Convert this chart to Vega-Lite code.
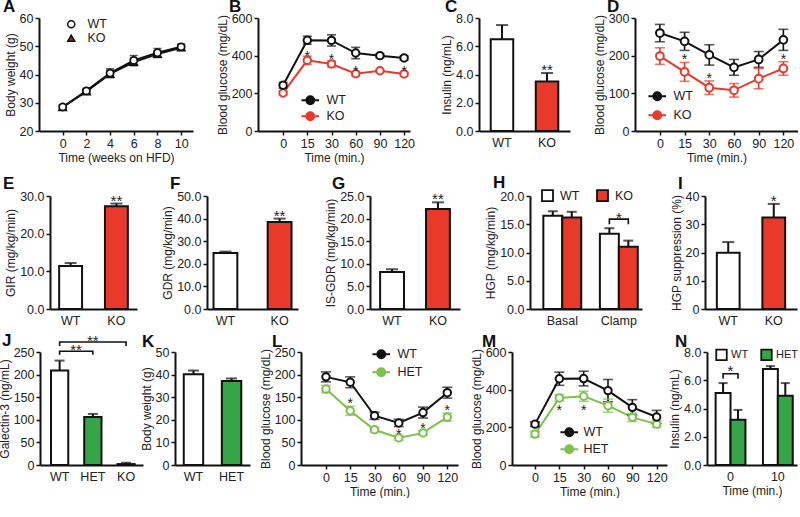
{
"$schema": "https://vega.github.io/schema/vega-lite/v6.json",
"padding": {"left": -2, "top": -2, "right": 0, "bottom": 0},
"spacing": 10,
"resolve": {"scale": {"fill": "independent", "stroke": "independent", "color": "independent", "shape": "independent", "xOffset": "independent", "x": "independent", "y": "independent"}, "legend": {"fill": "independent", "stroke": "independent", "color": "independent", "shape": "independent"}},
"vconcat": [
{"hconcat": [
{"width": 1, "height": 10, "data": {"values": [{"s": 0}]}, "mark": {"type": "point", "opacity": 0}},
{"width": 154, "height": 113, "title": {"text": "A", "dx": -36, "offset": -4},
 "data": {"values": [
  {"t":0,"g":"KO","m":28.4,"lo":27.7,"hi":29.1},{"t":2,"g":"KO","m":34.0,"lo":33.2,"hi":34.8},{"t":4,"g":"KO","m":40.2,"lo":38.9,"hi":41.5},{"t":6,"g":"KO","m":44.4,"lo":43.1,"hi":45.7},{"t":8,"g":"KO","m":47.2,"lo":46.0,"hi":48.4},{"t":10,"g":"KO","m":49.5,"lo":48.6,"hi":50.4},
  {"t":0,"g":"WT","m":28.5,"lo":27.7,"hi":29.3},{"t":2,"g":"WT","m":34.2,"lo":33.3,"hi":35.1},{"t":4,"g":"WT","m":40.5,"lo":39.0,"hi":42.0},{"t":6,"g":"WT","m":45.0,"lo":43.3,"hi":46.7},{"t":8,"g":"WT","m":47.7,"lo":46.2,"hi":49.2},{"t":10,"g":"WT","m":49.8,"lo":48.8,"hi":50.8}]},
 "encoding": {"x": {"field": "t", "type": "quantitative", "scale": {"domain": [-2, 11], "nice": false, "zero": false}, "axis": {"values": [0,2,4,6,8,10], "tickCount": 20, "format": "d", "title": "Time (weeks on HFD)"}}},
 "layer": [
  {"mark": {"type": "line", "strokeWidth": 2, "color": "#111111"}, "encoding": {"y": {"field": "m", "type": "quantitative", "scale": {"domain": [20, 60], "nice": false, "zero": false}, "axis": {"values": [20,30,40,50,60], "tickCount": 20, "format": "d", "title": "Body weight (g)"}}, "detail": {"field": "g"}}},
  {"mark": {"type": "rule", "strokeWidth": 1.5, "color": "#111111"}, "encoding": {"y": {"field": "lo", "type": "quantitative"}, "y2": {"field": "hi"}}},
  {"mark": {"type": "tick", "orient": "horizontal", "size": 8, "thickness": 1.5, "color": "#111111"}, "encoding": {"y": {"field": "lo", "type": "quantitative"}}},
  {"mark": {"type": "tick", "orient": "horizontal", "size": 8, "thickness": 1.5, "color": "#111111"}, "encoding": {"y": {"field": "hi", "type": "quantitative"}}},
  {"mark": {"type": "point", "size": 50, "filled": true, "stroke": "#111111", "strokeWidth": 1.8, "opacity": 1}, "encoding": {"y": {"field": "m", "type": "quantitative"},
    "fill": {"field": "g", "type": "nominal", "scale": {"domain": ["WT","KO"], "range": ["white","#8B2D2D"]}, "legend": {"title": null, "orient": "none", "legendX": 26, "legendY": 0, "labelOffset": 10, "rowPadding": 1, "symbolSize": 50,
       "encode": {"symbols": {"update": {"shape": {"signal": "datum.value === 'WT' ? 'M-2.4,0H-1M1,0H2.4M1,0A1,1,0,1,1,-1,0A1,1,0,1,1,1,0Z' : 'M-2.4,0.2H-0.6M0.6,0.2H2.4M0,-1.1L1.15,0.9L-1.15,0.9Z'"}, "stroke": {"value": "#111111"}, "strokeWidth": {"value": 1.8}}}}}},
    "shape": {"field": "g", "type": "nominal", "scale": {"domain": ["WT","KO"], "range": ["circle","triangle-up"]}, "legend": {"title": null, "orient": "none", "legendX": 26, "legendY": 0, "labelOffset": 10, "rowPadding": 1, "symbolSize": 50,
       "encode": {"symbols": {"update": {"shape": {"signal": "datum.value === 'WT' ? 'M-2.4,0H-1M1,0H2.4M1,0A1,1,0,1,1,-1,0A1,1,0,1,1,1,0Z' : 'M-2.4,0.2H-0.6M0.6,0.2H2.4M0,-1.1L1.15,0.9L-1.15,0.9Z'"}, "stroke": {"value": "#111111"}, "strokeWidth": {"value": 1.8}}}}}}}}
 ]},
{"width": 65, "height": 10, "data": {"values": [{"s": 0}]}, "mark": {"type": "point", "opacity": 0}},
{"width": 152, "height": 113, "title": {"text": "B", "dx": -29, "offset": -4},
 "data": {"values": [
  {"t":0,"g":"KO","m":202,"lo":192,"hi":212},{"t":15,"g":"KO","m":375,"lo":353,"hi":397},{"t":30,"g":"KO","m":356,"lo":341,"hi":371},{"t":60,"g":"KO","m":304,"lo":292,"hi":316},{"t":90,"g":"KO","m":320,"lo":312,"hi":328},{"t":120,"g":"KO","m":303,"lo":293,"hi":313},
  {"t":0,"g":"WT","m":243,"lo":228,"hi":258},{"t":15,"g":"WT","m":482,"lo":461,"hi":503},{"t":30,"g":"WT","m":481,"lo":451,"hi":511},{"t":60,"g":"WT","m":414,"lo":384,"hi":444},{"t":90,"g":"WT","m":400,"lo":390,"hi":410},{"t":120,"g":"WT","m":388,"lo":378,"hi":398}]},
 "encoding": {"x": {"field": "t", "type": "ordinal", "scale": {"type": "point", "domain": [0,15,30,60,90,120], "padding": 0.64, "align": 0.81}, "axis": {"title": "Time (min.)"}}},
 "layer": [
  {"mark": {"type": "line", "strokeWidth": 2}, "encoding": {"y": {"field": "m", "type": "quantitative", "scale": {"domain": [0, 600], "nice": false}, "axis": {"values": [0,200,400,600], "tickCount": 20, "title": "Blood glucose (mg/dL)"}},
    "stroke": {"field": "g", "type": "nominal", "scale": {"domain": ["WT","KO"], "range": ["#111111","#E8392B"]}, "legend": {"title": null, "orient": "none", "legendX": 46, "legendY": 76, "labelOffset": 10, "rowPadding": 0, "symbolSize": 64, "symbolStrokeWidth": 1.8, "symbolFillColor": "white", "symbolType": "M-2.2,0H-1M1,0H2.2M1,0A1,1,0,1,1,-1,0A1,1,0,1,1,1,0Z",
      "encode": {"symbols": {"update": {"fill": {"value": "white"}, "strokeWidth": {"value": 1.8}}}}}}}},
  {"mark": {"type": "rule", "strokeWidth": 1.6}, "encoding": {"y": {"field": "lo", "type": "quantitative"}, "y2": {"field": "hi"}, "stroke": {"field": "g", "type": "nominal"}}},
  {"mark": {"type": "tick", "orient": "horizontal", "size": 9, "thickness": 1.6}, "encoding": {"y": {"field": "lo", "type": "quantitative"}, "color": {"field": "g", "type": "nominal", "scale": {"domain": ["WT","KO"], "range": ["#111111","#E8392B"]}, "legend": null}}},
  {"mark": {"type": "tick", "orient": "horizontal", "size": 9, "thickness": 1.6}, "encoding": {"y": {"field": "hi", "type": "quantitative"}, "color": {"field": "g", "type": "nominal", "legend": null}}},
  {"mark": {"type": "point", "shape": "circle", "size": 55, "filled": true, "fill": "white", "strokeWidth": 2, "opacity": 1}, "encoding": {"y": {"field": "m", "type": "quantitative"}, "stroke": {"field": "g", "type": "nominal"}}},
  {"data": {"values": [{"t":15,"y":415,"s":"*"},{"t":30,"y":397,"s":"*"},{"t":60,"y":335,"s":"*"},{"t":120,"y":335,"s":"*"}]}, "mark": {"type": "text", "fontSize": 14, "baseline": "alphabetic", "dy": 8, "color": "#222222"}, "encoding": {"y": {"field": "y", "type": "quantitative"}, "text": {"field": "s"}}}
 ]},
{"width": 69, "height": 10, "data": {"values": [{"s": 0}]}, "mark": {"type": "point", "opacity": 0}},
{"width": 91, "height": 113, "title": {"text": "C", "dx": -34, "offset": -4},
 "data": {"values": [{"g":"WT","m":6.5,"hi":7.5,"s":""},{"g":"KO","m":3.5,"hi":4.1,"s":"**"}]},
 "encoding": {"x": {"field": "g", "type": "nominal", "sort": null, "scale": {"paddingInner": 0.5, "paddingOuter": 0.26}, "axis": {"title": null, "ticks": false, "labelPadding": 5}}},
 "layer": [
  {"mark": {"type": "bar", "stroke": "#111111", "strokeWidth": 2}, "encoding": {"y": {"field": "m", "type": "quantitative", "scale": {"domain": [0, 8], "nice": false}, "axis": {"values": [0,2,4,6,8], "tickCount": 20, "format": ".1f", "title": "Insulin (ng/mL)"}}, "fill": {"field": "g", "type": "nominal", "scale": {"domain": ["WT","KO"], "range": ["white","#E8392B"]}, "legend": null}}},
  {"mark": {"type": "rule", "strokeWidth": 2, "color": "#111111"}, "encoding": {"y": {"field": "m", "type": "quantitative"}, "y2": {"field": "hi"}}},
  {"mark": {"type": "tick", "orient": "horizontal", "size": 12, "thickness": 2, "color": "#111111"}, "encoding": {"y": {"field": "hi", "type": "quantitative"}}},
  {"mark": {"type": "text", "fontSize": 15, "baseline": "alphabetic", "dy": 2, "color": "#222222"}, "encoding": {"y": {"field": "hi", "type": "quantitative"}, "text": {"field": "s"}}}
 ]},
{"width": 65, "height": 10, "data": {"values": [{"s": 0}]}, "mark": {"type": "point", "opacity": 0}},
{"width": 163, "height": 113, "title": {"text": "D", "dx": -28, "offset": -4},
 "data": {"values": [
  {"t":0,"g":"KO","m":199,"lo":177,"hi":221},{"t":15,"g":"KO","m":157,"lo":132,"hi":182},{"t":30,"g":"KO","m":115,"lo":97,"hi":133},{"t":60,"g":"KO","m":108,"lo":90,"hi":126},{"t":90,"g":"KO","m":139,"lo":112,"hi":166},{"t":120,"g":"KO","m":166,"lo":148,"hi":184},
  {"t":0,"g":"WT","m":260,"lo":237,"hi":283},{"t":15,"g":"WT","m":238,"lo":214,"hi":262},{"t":30,"g":"WT","m":202,"lo":175,"hi":229},{"t":60,"g":"WT","m":169,"lo":148,"hi":190},{"t":90,"g":"WT","m":190,"lo":169,"hi":211},{"t":120,"g":"WT","m":242,"lo":214,"hi":270}]},
 "encoding": {"x": {"field": "t", "type": "ordinal", "scale": {"type": "point", "domain": [0,15,30,60,90,120], "padding": 0.8, "align": 0.63}, "axis": {"title": "Time (min.)"}}},
 "layer": [
  {"mark": {"type": "line", "strokeWidth": 2}, "encoding": {"y": {"field": "m", "type": "quantitative", "scale": {"domain": [0, 300], "nice": false}, "axis": {"values": [0,100,200,300], "tickCount": 20, "title": "Blood glucose (mg/dL)"}},
    "stroke": {"field": "g", "type": "nominal", "scale": {"domain": ["WT","KO"], "range": ["#111111","#E8392B"]}, "legend": {"title": null, "orient": "none", "legendX": 16, "legendY": 72, "labelOffset": 10, "rowPadding": 3, "symbolSize": 64, "symbolStrokeWidth": 1.8, "symbolFillColor": "white", "symbolType": "M-2.2,0H-1M1,0H2.2M1,0A1,1,0,1,1,-1,0A1,1,0,1,1,1,0Z",
      "encode": {"symbols": {"update": {"fill": {"value": "white"}, "strokeWidth": {"value": 1.8}}}}}}}},
  {"mark": {"type": "rule", "strokeWidth": 1.6}, "encoding": {"y": {"field": "lo", "type": "quantitative"}, "y2": {"field": "hi"}, "stroke": {"field": "g", "type": "nominal"}}},
  {"mark": {"type": "tick", "orient": "horizontal", "size": 10, "thickness": 1.6}, "encoding": {"y": {"field": "lo", "type": "quantitative"}, "color": {"field": "g", "type": "nominal", "scale": {"domain": ["WT","KO"], "range": ["#111111","#E8392B"]}, "legend": null}}},
  {"mark": {"type": "tick", "orient": "horizontal", "size": 10, "thickness": 1.6}, "encoding": {"y": {"field": "hi", "type": "quantitative"}, "color": {"field": "g", "type": "nominal", "legend": null}}},
  {"mark": {"type": "point", "shape": "circle", "size": 60, "filled": true, "fill": "white", "strokeWidth": 2, "opacity": 1}, "encoding": {"y": {"field": "m", "type": "quantitative"}, "stroke": {"field": "g", "type": "nominal"}}},
  {"data": {"values": [{"t":15,"y":198,"s":"*"},{"t":30,"y":148,"s":"*"},{"t":120,"y":198,"s":"*"}]}, "mark": {"type": "text", "fontSize": 14, "baseline": "alphabetic", "dy": 8, "color": "#222222"}, "encoding": {"y": {"field": "y", "type": "quantitative"}, "text": {"field": "s"}}}
 ]}
], "spacing": 0, "bounds": "flush",
 "resolve": {"scale": {"fill": "independent", "stroke": "independent", "color": "independent", "shape": "independent", "xOffset": "independent", "x": "independent", "y": "independent"}, "legend": {"fill": "independent", "stroke": "independent", "color": "independent", "shape": "independent"}}},

{"vconcat": [
{"hconcat": [
{"width": 12, "height": 10, "data": {"values": [{"s": 0}]}, "mark": {"type": "point", "opacity": 0}},
{"width": 87, "height": 113, "title": {"text": "E", "dx": -47, "offset": -3},
 "data": {"values": [{"g":"WT","m":11.4,"hi":12.2,"s":""},{"g":"KO","m":27.3,"hi":28.0,"s":"**"}]},
 "encoding": {"x": {"field": "g", "type": "nominal", "sort": null, "scale": {"paddingInner": 0.5, "paddingOuter": 0.2}, "axis": {"title": null, "ticks": false, "labelPadding": 5}}},
 "layer": [
  {"mark": {"type": "bar", "stroke": "#111111", "strokeWidth": 2}, "encoding": {"y": {"field": "m", "type": "quantitative", "scale": {"domain": [0, 30], "nice": false}, "axis": {"values": [0,10,20,30], "tickCount": 20, "format": ".1f", "title": "GIR (mg/kg/min)"}}, "fill": {"field": "g", "type": "nominal", "scale": {"domain": ["WT","KO"], "range": ["white","#E8392B"]}, "legend": null}}},
  {"mark": {"type": "rule", "strokeWidth": 2, "color": "#111111"}, "encoding": {"y": {"field": "m", "type": "quantitative"}, "y2": {"field": "hi"}}},
  {"mark": {"type": "tick", "orient": "horizontal", "size": 12, "thickness": 2, "color": "#111111"}, "encoding": {"y": {"field": "hi", "type": "quantitative"}}},
  {"mark": {"type": "text", "fontSize": 15, "baseline": "alphabetic", "dy": 2, "color": "#222222"}, "encoding": {"y": {"field": "hi", "type": "quantitative"}, "text": {"field": "s"}}}
 ]},
{"width": 70, "height": 10, "data": {"values": [{"s": 0}]}, "mark": {"type": "point", "opacity": 0}},
{"width": 91, "height": 113, "title": {"text": "F", "dx": -37, "offset": -3},
 "data": {"values": [{"g":"WT","m":24.8,"hi":25.4,"s":""},{"g":"KO","m":38.5,"hi":40.0,"s":"**"}]},
 "encoding": {"x": {"field": "g", "type": "nominal", "sort": null, "scale": {"paddingInner": 0.56, "paddingOuter": 0.12}, "axis": {"title": null, "ticks": false, "labelPadding": 5}}},
 "layer": [
  {"mark": {"type": "bar", "stroke": "#111111", "strokeWidth": 2}, "encoding": {"y": {"field": "m", "type": "quantitative", "scale": {"domain": [0, 50], "nice": false}, "axis": {"values": [0,10,20,30,40,50], "tickCount": 20, "format": ".1f", "title": "GDR (mg/kg/min)"}}, "fill": {"field": "g", "type": "nominal", "scale": {"domain": ["WT","KO"], "range": ["white","#E8392B"]}, "legend": null}}},
  {"mark": {"type": "rule", "strokeWidth": 2, "color": "#111111"}, "encoding": {"y": {"field": "m", "type": "quantitative"}, "y2": {"field": "hi"}}},
  {"mark": {"type": "tick", "orient": "horizontal", "size": 12, "thickness": 2, "color": "#111111"}, "encoding": {"y": {"field": "hi", "type": "quantitative"}}},
  {"mark": {"type": "text", "fontSize": 15, "baseline": "alphabetic", "dy": 2, "color": "#222222"}, "encoding": {"y": {"field": "hi", "type": "quantitative"}, "text": {"field": "s"}}}
 ]},
{"width": 72, "height": 10, "data": {"values": [{"s": 0}]}, "mark": {"type": "point", "opacity": 0}},
{"width": 90, "height": 113, "title": {"text": "G", "dx": -38, "offset": -3},
 "data": {"values": [{"g":"WT","m":8.2,"hi":8.8,"s":""},{"g":"KO","m":22.1,"hi":23.6,"s":"**"}]},
 "encoding": {"x": {"field": "g", "type": "nominal", "sort": null, "scale": {"paddingInner": 0.48, "paddingOuter": 0.22}, "axis": {"title": null, "ticks": false, "labelPadding": 5}}},
 "layer": [
  {"mark": {"type": "bar", "stroke": "#111111", "strokeWidth": 2}, "encoding": {"y": {"field": "m", "type": "quantitative", "scale": {"domain": [0, 25], "nice": false}, "axis": {"values": [0,5,10,15,20,25], "tickCount": 20, "format": ".1f", "title": "IS-GDR (mg/kg/min)"}}, "fill": {"field": "g", "type": "nominal", "scale": {"domain": ["WT","KO"], "range": ["white","#E8392B"]}, "legend": null}}},
  {"mark": {"type": "rule", "strokeWidth": 2, "color": "#111111"}, "encoding": {"y": {"field": "m", "type": "quantitative"}, "y2": {"field": "hi"}}},
  {"mark": {"type": "tick", "orient": "horizontal", "size": 12, "thickness": 2, "color": "#111111"}, "encoding": {"y": {"field": "hi", "type": "quantitative"}}},
  {"mark": {"type": "text", "fontSize": 15, "baseline": "alphabetic", "dy": 2, "color": "#222222"}, "encoding": {"y": {"field": "hi", "type": "quantitative"}, "text": {"field": "s"}}}
 ]},
{"width": 70, "height": 10, "data": {"values": [{"s": 0}]}, "mark": {"type": "point", "opacity": 0}},
{"width": 112, "height": 113, "title": {"text": "H", "dx": -37, "offset": -3},
 "data": {"values": [{"c":"Basal","g":"WT","m":16.5,"hi":17.3},{"c":"Basal","g":"KO","m":16.2,"hi":17.2},{"c":"Clamp","g":"WT","m":13.3,"hi":14.3},{"c":"Clamp","g":"KO","m":11.0,"hi":12.1}]},
 "encoding": {"x": {"field": "c", "type": "nominal", "sort": null, "scale": {"paddingInner": 0.33, "paddingOuter": 0.155, "align": 0.76}, "axis": {"title": null, "ticks": false, "labelPadding": 5}}},
 "layer": [
  {"mark": {"type": "bar", "stroke": "#111111", "strokeWidth": 2}, "encoding": {"xOffset": {"field": "g", "type": "nominal", "sort": null, "scale": {"domain": ["WT","KO"], "paddingInner": 0, "paddingOuter": 0}},
    "y": {"field": "m", "type": "quantitative", "scale": {"domain": [0, 20], "nice": false}, "axis": {"values": [0,5,10,15,20], "tickCount": 20, "format": ".1f", "title": "HGP (mg/kg/min)"}},
    "fill": {"field": "g", "type": "nominal", "scale": {"domain": ["WT","KO"], "range": ["white","#E8392B"]}, "legend": {"title": null, "orient": "none", "direction": "horizontal", "legendX": 11, "legendY": -7, "symbolType": "square", "symbolSize": 121, "symbolStrokeColor": "#111111", "symbolStrokeWidth": 1.8, "labelOffset": 6, "columnPadding": 13}}}},
  {"mark": {"type": "rule", "strokeWidth": 2, "color": "#111111"}, "encoding": {"xOffset": {"field": "g", "type": "nominal"}, "y": {"field": "m", "type": "quantitative"}, "y2": {"field": "hi"}}},
  {"mark": {"type": "tick", "orient": "horizontal", "size": 10, "thickness": 2, "color": "#111111"}, "encoding": {"xOffset": {"field": "g", "type": "nominal"}, "y": {"field": "hi", "type": "quantitative"}}},
  {"data": {"values": [{"c":"Clamp","g":"WT","y":15.0,"o":1},{"c":"Clamp","g":"WT","y":15.9,"o":2},{"c":"Clamp","g":"KO","y":15.9,"o":3},{"c":"Clamp","g":"KO","y":15.0,"o":4}]},
   "mark": {"type": "line", "strokeWidth": 1.6, "color": "#111111"}, "encoding": {"xOffset": {"field": "g", "type": "nominal"}, "y": {"field": "y", "type": "quantitative"}, "order": {"field": "o", "type": "quantitative"}}},
  {"data": {"values": [{"c":"Clamp","y":15.9,"s":"*"}]}, "mark": {"type": "text", "fontSize": 15, "baseline": "alphabetic", "dy": 3.5, "color": "#222222"}, "encoding": {"y": {"field": "y", "type": "quantitative"}, "text": {"field": "s"}}}
 ]},
{"width": 63, "height": 10, "data": {"values": [{"s": 0}]}, "mark": {"type": "point", "opacity": 0}},
{"width": 92, "height": 113, "title": {"text": "I", "dx": -27, "offset": -3},
 "data": {"values": [{"g":"WT","m":19.9,"hi":23.7,"s":""},{"g":"KO","m":32.4,"hi":37.2,"s":"*"}]},
 "encoding": {"x": {"field": "g", "type": "nominal", "sort": null, "scale": {"paddingInner": 0.5, "paddingOuter": 0.26}, "axis": {"title": null, "ticks": false, "labelPadding": 5}}},
 "layer": [
  {"mark": {"type": "bar", "stroke": "#111111", "strokeWidth": 2}, "encoding": {"y": {"field": "m", "type": "quantitative", "scale": {"domain": [0, 40], "nice": false}, "axis": {"values": [0,10,20,30,40], "tickCount": 20, "title": "HGP suppression (%)"}}, "fill": {"field": "g", "type": "nominal", "scale": {"domain": ["WT","KO"], "range": ["white","#E8392B"]}, "legend": null}}},
  {"mark": {"type": "rule", "strokeWidth": 2, "color": "#111111"}, "encoding": {"y": {"field": "m", "type": "quantitative"}, "y2": {"field": "hi"}}},
  {"mark": {"type": "tick", "orient": "horizontal", "size": 12, "thickness": 2, "color": "#111111"}, "encoding": {"y": {"field": "hi", "type": "quantitative"}}},
  {"mark": {"type": "text", "fontSize": 15, "baseline": "alphabetic", "dy": 2, "color": "#222222"}, "encoding": {"y": {"field": "hi", "type": "quantitative"}, "text": {"field": "s"}}}
 ]}
], "spacing": 0, "bounds": "flush",
 "resolve": {"scale": {"fill": "independent", "stroke": "independent", "color": "independent", "shape": "independent", "xOffset": "independent", "x": "independent", "y": "independent"}, "legend": {"fill": "independent", "stroke": "independent", "color": "independent", "shape": "independent"}}},

{"hconcat": [
{"width": 2, "height": 10, "data": {"values": [{"s": 0}]}, "mark": {"type": "point", "opacity": 0}},
{"width": 103, "height": 113, "title": {"text": "J", "dx": -38, "offset": -16.5},
 "data": {"values": [{"g":"WT","m":209,"hi":231},{"g":"HET","m":106,"hi":113},{"g":"KO","m":2,"hi":5}]},
 "encoding": {"x": {"field": "g", "type": "nominal", "sort": null, "scale": {"paddingInner": 0.48, "paddingOuter": 0.29, "align": 0.57}, "axis": {"title": null, "ticks": false, "labelPadding": 5}}},
 "layer": [
  {"mark": {"type": "bar", "stroke": "#111111", "strokeWidth": 2}, "encoding": {"y": {"field": "m", "type": "quantitative", "scale": {"domain": [0, 250], "nice": false}, "axis": {"values": [0,50,100,150,200,250], "tickCount": 20, "title": "Galectin-3 (ng/mL)"}}, "fill": {"field": "g", "type": "nominal", "scale": {"domain": ["WT","HET","KO"], "range": ["white","#36A547","#E8392B"]}, "legend": null}}},
  {"mark": {"type": "rule", "strokeWidth": 2, "color": "#111111"}, "encoding": {"y": {"field": "m", "type": "quantitative"}, "y2": {"field": "hi"}}},
  {"mark": {"type": "tick", "orient": "horizontal", "size": 10, "thickness": 2, "color": "#111111"}, "encoding": {"y": {"field": "hi", "type": "quantitative"}}},
  {"data": {"values": [{"b":1,"g":"WT","y":244,"o":1},{"b":1,"g":"WT","y":251.5,"o":2},{"b":1,"g":"HET","y":251.5,"o":3},{"b":1,"g":"HET","y":244,"o":4},{"b":2,"g":"WT","y":263,"o":1},{"b":2,"g":"WT","y":272,"o":2},{"b":2,"g":"KO","y":272,"o":3},{"b":2,"g":"KO","y":263,"o":4}]},
   "mark": {"type": "line", "strokeWidth": 1.6, "color": "#111111"}, "encoding": {"y": {"field": "y", "type": "quantitative"}, "detail": {"field": "b"}, "order": {"field": "o", "type": "quantitative"}}},
  {"data": {"values": [{"g":"WT","y":251.5,"s":"**"}]}, "mark": {"type": "text", "fontSize": 15, "baseline": "alphabetic", "dy": 3.5, "dx": 16.5, "color": "#222222"}, "encoding": {"y": {"field": "y", "type": "quantitative"}, "text": {"field": "s"}}},
  {"data": {"values": [{"g":"HET","y":272,"s":"**"}]}, "mark": {"type": "text", "fontSize": 15, "baseline": "alphabetic", "dy": 3.5, "color": "#222222"}, "encoding": {"y": {"field": "y", "type": "quantitative"}, "text": {"field": "s"}}}
 ]},
{"width": 32, "height": 10, "data": {"values": [{"s": 0}]}, "mark": {"type": "point", "opacity": 0}},
{"width": 75, "height": 113, "title": {"text": "K", "dx": -33, "offset": -4.5},
 "data": {"values": [{"g":"WT","m":40.2,"hi":41.8},{"g":"HET","m":37.2,"hi":38.3}]},
 "encoding": {"x": {"field": "g", "type": "nominal", "sort": null, "scale": {"paddingInner": 0.49, "paddingOuter": 0.23}, "axis": {"title": null, "ticks": false, "labelPadding": 5}}},
 "layer": [
  {"mark": {"type": "bar", "stroke": "#111111", "strokeWidth": 2}, "encoding": {"y": {"field": "m", "type": "quantitative", "scale": {"domain": [0, 50], "nice": false}, "axis": {"values": [0,10,20,30,40,50], "tickCount": 20, "title": "Body weight (g)"}}, "fill": {"field": "g", "type": "nominal", "scale": {"domain": ["WT","HET"], "range": ["white","#36A547"]}, "legend": null}}},
  {"mark": {"type": "rule", "strokeWidth": 2, "color": "#111111"}, "encoding": {"y": {"field": "m", "type": "quantitative"}, "y2": {"field": "hi"}}},
  {"mark": {"type": "tick", "orient": "horizontal", "size": 11, "thickness": 2, "color": "#111111"}, "encoding": {"y": {"field": "hi", "type": "quantitative"}}}
 ]},
{"width": 51, "height": 10, "data": {"values": [{"s": 0}]}, "mark": {"type": "point", "opacity": 0}},
{"width": 157, "height": 113, "title": {"text": "L", "dx": -29, "offset": -4.5},
 "data": {"values": [
  {"t":0,"g":"HET","m":168,"lo":160,"hi":176},{"t":15,"g":"HET","m":120,"lo":110,"hi":130},{"t":30,"g":"HET","m":78,"lo":73,"hi":83},{"t":60,"g":"HET","m":60,"lo":55,"hi":65},{"t":90,"g":"HET","m":71,"lo":66,"hi":76},{"t":120,"g":"HET","m":106,"lo":97,"hi":115},
  {"t":0,"g":"WT","m":195,"lo":184,"hi":206},{"t":15,"g":"WT","m":183,"lo":171,"hi":195},{"t":30,"g":"WT","m":109,"lo":101,"hi":117},{"t":60,"g":"WT","m":93,"lo":85,"hi":101},{"t":90,"g":"WT","m":116,"lo":104,"hi":128},{"t":120,"g":"WT","m":160,"lo":148,"hi":172}]},
 "encoding": {"x": {"field": "t", "type": "ordinal", "scale": {"type": "point", "domain": [0,15,30,60,90,120], "padding": 0.735, "align": 0.7}, "axis": {"title": "Time (min.)"}}},
 "layer": [
  {"mark": {"type": "line", "strokeWidth": 2}, "encoding": {"y": {"field": "m", "type": "quantitative", "scale": {"domain": [0, 250], "nice": false}, "axis": {"values": [0,50,100,150,200,250], "tickCount": 20, "title": "Blood glucose (mg/dL)"}},
    "stroke": {"field": "g", "type": "nominal", "scale": {"domain": ["WT","HET"], "range": ["#111111","#7DC24B"]}, "legend": {"title": null, "orient": "none", "legendX": 74, "legendY": -4, "labelOffset": 10, "rowPadding": 2, "symbolSize": 64, "symbolStrokeWidth": 1.8, "symbolFillColor": "white", "symbolType": "M-2.2,0H-1M1,0H2.2M1,0A1,1,0,1,1,-1,0A1,1,0,1,1,1,0Z",
      "encode": {"symbols": {"update": {"fill": {"value": "white"}, "strokeWidth": {"value": 1.8}}}}}}}},
  {"mark": {"type": "rule", "strokeWidth": 1.6}, "encoding": {"y": {"field": "lo", "type": "quantitative"}, "y2": {"field": "hi"}, "stroke": {"field": "g", "type": "nominal"}}},
  {"mark": {"type": "tick", "orient": "horizontal", "size": 10, "thickness": 1.6}, "encoding": {"y": {"field": "lo", "type": "quantitative"}, "color": {"field": "g", "type": "nominal", "scale": {"domain": ["WT","HET"], "range": ["#111111","#7DC24B"]}, "legend": null}}},
  {"mark": {"type": "tick", "orient": "horizontal", "size": 10, "thickness": 1.6}, "encoding": {"y": {"field": "hi", "type": "quantitative"}, "color": {"field": "g", "type": "nominal", "legend": null}}},
  {"mark": {"type": "point", "shape": "circle", "size": 55, "filled": true, "fill": "white", "strokeWidth": 2, "opacity": 1}, "encoding": {"y": {"field": "m", "type": "quantitative"}, "stroke": {"field": "g", "type": "nominal"}}},
  {"data": {"values": [{"t":15,"y":144,"s":"*"},{"t":60,"y":76,"s":"*"},{"t":90,"y":89,"s":"*"},{"t":120,"y":128,"s":"*"}]}, "mark": {"type": "text", "fontSize": 14, "baseline": "alphabetic", "dy": 8, "color": "#222222"}, "encoding": {"y": {"field": "y", "type": "quantitative"}, "text": {"field": "s"}}}
 ]},
{"width": 54, "height": 10, "data": {"values": [{"s": 0}]}, "mark": {"type": "point", "opacity": 0}},
{"width": 155, "height": 113, "title": {"text": "M", "dx": -30, "offset": -4.5},
 "data": {"values": [
  {"t":0,"g":"HET","m":164,"lo":149,"hi":179},{"t":15,"g":"HET","m":356,"lo":338,"hi":374},{"t":30,"g":"HET","m":365,"lo":338,"hi":392},{"t":60,"g":"HET","m":315,"lo":280,"hi":350},{"t":90,"g":"HET","m":253,"lo":231,"hi":275},{"t":120,"g":"HET","m":217,"lo":199,"hi":235},
  {"t":0,"g":"WT","m":217,"lo":205,"hi":229},{"t":15,"g":"WT","m":458,"lo":423,"hi":493},{"t":30,"g":"WT","m":459,"lo":420,"hi":498},{"t":60,"g":"WT","m":395,"lo":336,"hi":454},{"t":90,"g":"WT","m":306,"lo":265,"hi":347},{"t":120,"g":"WT","m":255,"lo":220,"hi":290}]},
 "encoding": {"x": {"field": "t", "type": "ordinal", "scale": {"type": "point", "domain": [0,15,30,60,90,120], "padding": 0.685, "align": 0.69}, "axis": {"title": "Time (min.)"}}},
 "layer": [
  {"mark": {"type": "line", "strokeWidth": 2}, "encoding": {"y": {"field": "m", "type": "quantitative", "scale": {"domain": [0, 600], "nice": false}, "axis": {"values": [0,200,400,600], "tickCount": 20, "title": "Blood glucose (mg/dL)"}},
    "stroke": {"field": "g", "type": "nominal", "scale": {"domain": ["WT","HET"], "range": ["#111111","#7DC24B"]}, "legend": {"title": null, "orient": "none", "legendX": 51, "legendY": 74, "labelOffset": 8, "rowPadding": 1, "symbolSize": 64, "symbolStrokeWidth": 1.8, "symbolFillColor": "white", "symbolType": "M-2.2,0H-1M1,0H2.2M1,0A1,1,0,1,1,-1,0A1,1,0,1,1,1,0Z",
      "encode": {"symbols": {"update": {"fill": {"value": "white"}, "strokeWidth": {"value": 1.8}}}}}}}},
  {"mark": {"type": "rule", "strokeWidth": 1.6}, "encoding": {"y": {"field": "lo", "type": "quantitative"}, "y2": {"field": "hi"}, "stroke": {"field": "g", "type": "nominal"}}},
  {"mark": {"type": "tick", "orient": "horizontal", "size": 10, "thickness": 1.6}, "encoding": {"y": {"field": "lo", "type": "quantitative"}, "color": {"field": "g", "type": "nominal", "scale": {"domain": ["WT","HET"], "range": ["#111111","#7DC24B"]}, "legend": null}}},
  {"mark": {"type": "tick", "orient": "horizontal", "size": 10, "thickness": 1.6}, "encoding": {"y": {"field": "hi", "type": "quantitative"}, "color": {"field": "g", "type": "nominal", "legend": null}}},
  {"mark": {"type": "point", "shape": "circle", "size": 55, "filled": true, "fill": "white", "strokeWidth": 2, "opacity": 1}, "encoding": {"y": {"field": "m", "type": "quantitative"}, "stroke": {"field": "g", "type": "nominal"}}},
  {"data": {"values": [{"t":15,"y":308,"s":"*"},{"t":30,"y":308,"s":"*"}]}, "mark": {"type": "text", "fontSize": 14, "baseline": "alphabetic", "dy": 8, "color": "#222222"}, "encoding": {"y": {"field": "y", "type": "quantitative"}, "text": {"field": "s"}}}
 ]},
{"width": 40, "height": 10, "data": {"values": [{"s": 0}]}, "mark": {"type": "point", "opacity": 0}},
{"width": 90, "height": 113, "title": {"text": "N", "dx": -32, "offset": -4.5},
 "data": {"values": [{"c":"0","g":"WT","m":5.1,"hi":5.8},{"c":"0","g":"HET","m":3.2,"hi":3.9},{"c":"10","g":"WT","m":6.8,"hi":7.0},{"c":"10","g":"HET","m":4.9,"hi":5.8}]},
 "encoding": {"x": {"field": "c", "type": "nominal", "sort": null, "scale": {"paddingInner": 0.37, "paddingOuter": 0.136, "align": 0.67}, "axis": {"title": "Time (min.)", "ticks": false, "labelPadding": 5}}},
 "layer": [
  {"mark": {"type": "bar", "stroke": "#111111", "strokeWidth": 2}, "encoding": {"xOffset": {"field": "g", "type": "nominal", "sort": null, "scale": {"domain": ["WT","HET"], "paddingInner": 0, "paddingOuter": 0}},
    "y": {"field": "m", "type": "quantitative", "scale": {"domain": [0, 8], "nice": false}, "axis": {"values": [0,2,4,6,8], "tickCount": 20, "format": ".1f", "title": "Insulin (ng/mL)"}},
    "fill": {"field": "g", "type": "nominal", "scale": {"domain": ["WT","HET"], "range": ["white","#36A547"]}, "legend": {"title": null, "orient": "none", "direction": "horizontal", "legendX": 8, "legendY": -4, "symbolType": "square", "symbolSize": 110, "symbolStrokeColor": "#111111", "symbolStrokeWidth": 1.8, "labelOffset": 3, "columnPadding": 8, "labelFontSize": 11}}}},
  {"mark": {"type": "rule", "strokeWidth": 2, "color": "#111111"}, "encoding": {"xOffset": {"field": "g", "type": "nominal"}, "y": {"field": "m", "type": "quantitative"}, "y2": {"field": "hi"}}},
  {"mark": {"type": "tick", "orient": "horizontal", "size": 9, "thickness": 2, "color": "#111111"}, "encoding": {"xOffset": {"field": "g", "type": "nominal"}, "y": {"field": "hi", "type": "quantitative"}}},
  {"data": {"values": [{"c":"0","g":"WT","y":6.1,"o":1},{"c":"0","g":"WT","y":6.46,"o":2},{"c":"0","g":"HET","y":6.46,"o":3},{"c":"0","g":"HET","y":6.1,"o":4}]},
   "mark": {"type": "line", "strokeWidth": 1.6, "color": "#111111"}, "encoding": {"xOffset": {"field": "g", "type": "nominal"}, "y": {"field": "y", "type": "quantitative"}, "order": {"field": "o", "type": "quantitative"}}},
  {"data": {"values": [{"c":"0","y":6.46,"s":"*"}]}, "mark": {"type": "text", "fontSize": 15, "baseline": "alphabetic", "dy": 2.5, "color": "#222222"}, "encoding": {"y": {"field": "y", "type": "quantitative"}, "text": {"field": "s"}}}
 ]}
], "spacing": 0, "bounds": "flush",
 "resolve": {"scale": {"fill": "independent", "stroke": "independent", "color": "independent", "shape": "independent", "xOffset": "independent", "x": "independent", "y": "independent"}, "legend": {"fill": "independent", "stroke": "independent", "color": "independent", "shape": "independent"}}}
], "spacing": 5,
 "resolve": {"scale": {"fill": "independent", "stroke": "independent", "color": "independent", "shape": "independent", "xOffset": "independent", "x": "independent", "y": "independent"}, "legend": {"fill": "independent", "stroke": "independent", "color": "independent", "shape": "independent"}}}
],
"config": {
 "font": "Liberation Sans",
 "view": {"stroke": null},
 "axis": {"domainColor": "#111111", "domainWidth": 2, "tickColor": "#111111", "tickWidth": 1.5, "tickSize": 4, "labelFontSize": 12.5, "labelColor": "#222222", "titleFontSize": 12, "titleFontWeight": "normal", "titleColor": "#222222", "grid": false, "labelPadding": 2, "titlePadding": 2, "labelOverlap": false},
 "axisX": {"labelAngle": 0, "titlePadding": 3},
 "legend": {"padding": 0, "labelFontSize": 12.5, "labelColor": "#222222"},
 "title": {"anchor": "start", "frame": "group", "fontSize": 17, "fontWeight": "bold", "color": "#111111", "offset": 0, "baseline": "alphabetic"}
}
}
